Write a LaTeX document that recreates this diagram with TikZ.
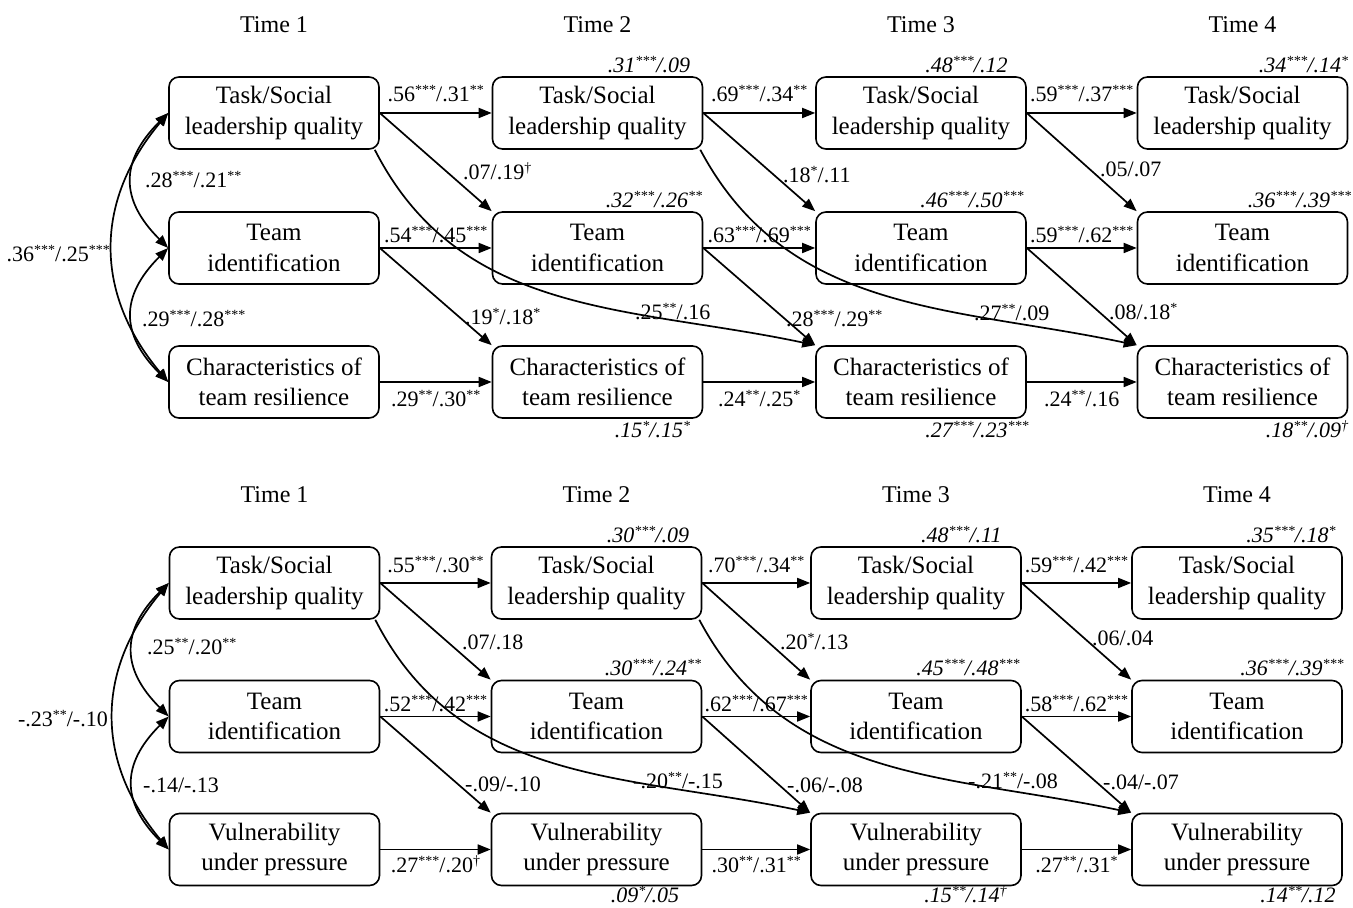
\documentclass[tikz,border=0pt]{standalone}
\usepackage{fontspec}
\setmainfont{Liberation Serif}
\usetikzlibrary{arrows.meta}
% small raised significance marks
\newcommand\sg[1]{\raisebox{0.32em}{\fontsize{14}{14}\selectfont #1}}

\begin{document}
\begin{tikzpicture}[x=1pt,y=1pt,
  var/.style={draw, line width=1.6pt, rounded corners=10pt, minimum width=210pt,
    minimum height=72pt, align=center, inner sep=0pt,
    font=\fontsize{25}{30.5}\selectfont},
  tip/.tip={Triangle[length=13pt,width=10pt]},
  path/.style={line width=1.7pt, -tip},
  cov/.style={line width=1.7pt, tip-tip},
  coef/.style={font=\fontsize{22}{24}\selectfont, inner sep=0pt},
  rsq/.style={font=\fontsize{22}{24}\selectfont\itshape, inner sep=0pt, anchor=base east},
  hdr/.style={font=\fontsize{24}{28}\selectfont, inner sep=0pt, anchor=base},
]
\useasboundingbox (0,0) rectangle (1353,908);

% ---------------- upper model: team resilience characteristics ----------------
\node[hdr] (ah1) at (274,875) {Time 1};
\node[hdr] (ah2) at (597.5,875) {Time 2};
\node[hdr] (ah3) at (921,875) {Time 3};
\node[hdr] (ah4) at (1242.5,875) {Time 4};

\foreach \c/\x in {1/274,2/597.5,3/921,4/1242.5}{
  \node[var] (aT\c) at (\x,795) {Task/Social\\leadership quality};
  \node[var] (aI\c) at (\x,660) {Team\\identification};
  \node[var] (aC\c) at (\x,526) {Characteristics of\\team resilience};
}

% explained variance
\node[rsq] (ar1) at ([xshift=-13pt,yshift=4pt]aT2.north east) {.31\sg{***}/.09};
\node[rsq] (ar2) at ([xshift=-19pt,yshift=4pt]aT3.north east) {.48\sg{***}/.12};
\node[rsq] (ar3) at ([xshift=0pt,yshift=4pt]aT4.north east) {.34\sg{***}/.14\sg{*}};
\node[rsq] (ar4) at ([xshift=-1pt,yshift=4pt]aI2.north east) {.32\sg{***}/.26\sg{**}};
\node[rsq] (ar5) at ([xshift=-3pt,yshift=4pt]aI3.north east) {.46\sg{***}/.50\sg{***}};
\node[rsq] (ar6) at ([xshift=3pt,yshift=4pt]aI4.north east) {.36\sg{***}/.39\sg{***}};
\node[rsq] (ar7) at ([xshift=-13pt,yshift=-19pt]aC2.south east) {.15\sg{*}/.15\sg{*}};
\node[rsq] (ar8) at ([xshift=2pt,yshift=-19pt]aC3.south east) {.27\sg{***}/.23\sg{***}};
\node[rsq] (ar9) at ([xshift=0pt,yshift=-19pt]aC4.south east) {.18\sg{**}/.09\sg{†}};

% stability paths
\draw[path] (aT1.east) -- node[coef,anchor=base,yshift=11pt]{.56\sg{***}/.31\sg{**}} (aT2.west);
\draw[path] (aT2.east) -- node[coef,anchor=base,yshift=11pt]{.69\sg{***}/.34\sg{**}} (aT3.west);
\draw[path] (aT3.east) -- node[coef,anchor=base,yshift=11pt]{.59\sg{***}/.37\sg{***}} (aT4.west);
\draw[path] (aI1.east) -- node[coef,anchor=base,yshift=5pt]{.54\sg{***}/.45\sg{***}} (aI2.west);
\draw[path] (aI2.east) -- node[coef,anchor=base,yshift=5pt]{.63\sg{***}/.69\sg{***}} (aI3.west);
\draw[path] (aI3.east) -- node[coef,anchor=base,yshift=5pt]{.59\sg{***}/.62\sg{***}} (aI4.west);
\draw[path] (aC1.east) -- node[coef,anchor=base,yshift=-25pt]{.29\sg{**}/.30\sg{**}} (aC2.west);
\draw[path] (aC2.east) -- node[coef,anchor=base,yshift=-25pt]{.24\sg{**}/.25\sg{*}} (aC3.west);
\draw[path] (aC3.east) -- node[coef,anchor=base,yshift=-25pt]{.24\sg{**}/.16} (aC4.west);

% cross-lagged paths
\draw[path] (aT1.east) -- (aI2.north west);
\draw[path] (aT2.east) -- (aI3.north west);
\draw[path] (aT3.east) -- (aI4.north west);
\draw[path] (aI1.east) -- (aC2.north west);
\draw[path] (aI2.east) -- (aC3.north west);
\draw[path] (aI3.east) -- (aC4.north west);
\draw[path] ([xshift=-5pt]aT1.south east) to[out=-63,in=168] (aC3.north west);
\draw[path] ([xshift=-3pt]aT2.south east) to[out=-62,in=168] (aC4.north west);

\node[coef,anchor=base west] (al1) at (463,728) {.07/.19\sg{†}};
\node[coef,anchor=base west] (al2) at (783,725) {.18\sg{*}/.11};
\node[coef,anchor=base west] (al3) at (1100,731) {.05/.07};
\node[coef,anchor=base west] (al4) at (465,583) {.19\sg{*}/.18\sg{*}};
\node[coef,anchor=base west] (al5) at (786,581) {.28\sg{***}/.29\sg{**}};
\node[coef,anchor=base west] (al6) at (1109,588) {.08/.18\sg{*}};
\node[coef,anchor=base west] (al7) at (635,588) {.25\sg{**}/.16};
\node[coef,anchor=base west] (al8) at (974,587) {.27\sg{**}/.09};

% correlations at Time 1
\draw[cov] (aT1.west) to[out=225,in=135,looseness=1.3] (aI1.west);
\draw[cov] (aI1.west) to[out=225,in=135,looseness=1.3] (aC1.west);
\draw[cov] (aT1.west) to[out=230,in=130,looseness=1.1] (aC1.west);
\node[coef,anchor=base west] (ac1) at (145,720) {.28\sg{***}/.21\sg{**}};
\node[coef,anchor=base west] (ac2) at (142,581) {.29\sg{***}/.28\sg{***}};
\node[coef,anchor=base east] (ac3) at (110,646) {.36\sg{***}/.25\sg{***}};

% ---------------- lower model: vulnerability under pressure ----------------
\node[hdr] (bh1) at (274.5,405) {Time 1};
\node[hdr] (bh2) at (596.5,405) {Time 2};
\node[hdr] (bh3) at (916,405) {Time 3};
\node[hdr] (bh4) at (1237,405) {Time 4};

\foreach \c/\x in {1/274.5,2/596.5,3/916,4/1237}{
  \node[var] (bT\c) at (\x,325) {Task/Social\\leadership quality};
  \node[var] (bI\c) at (\x,191.5) {Team\\identification};
  \node[var] (bV\c) at (\x,58.5) {Vulnerability\\under pressure};
}

\node[rsq] (br1) at ([xshift=-13pt,yshift=4pt]bT2.north east) {.30\sg{***}/.09};
\node[rsq] (br2) at ([xshift=-20pt,yshift=4pt]bT3.north east) {.48\sg{***}/.11};
\node[rsq] (br3) at ([xshift=-7pt,yshift=4pt]bT4.north east) {.35\sg{***}/.18\sg{*}};
\node[rsq] (br4) at ([xshift=-1pt,yshift=4pt]bI2.north east) {.30\sg{***}/.24\sg{**}};
\node[rsq] (br5) at ([xshift=-2pt,yshift=4pt]bI3.north east) {.45\sg{***}/.48\sg{***}};
\node[rsq] (br6) at ([xshift=1pt,yshift=4pt]bI4.north east) {.36\sg{***}/.39\sg{***}};
\node[rsq] (br7) at ([xshift=-23pt,yshift=-16pt]bV2.south east) {.09\sg{*}/.05};
\node[rsq] (br8) at ([xshift=-15pt,yshift=-16pt]bV3.south east) {.15\sg{**}/.14\sg{†}};
\node[rsq] (br9) at ([xshift=-7pt,yshift=-16pt]bV4.south east) {.14\sg{**}/.12};

\draw[path] (bT1.east) -- node[coef,anchor=base,yshift=10pt]{.55\sg{***}/.30\sg{**}} (bT2.west);
\draw[path] (bT2.east) -- node[coef,anchor=base,yshift=10pt]{.70\sg{***}/.34\sg{**}} (bT3.west);
\draw[path] (bT3.east) -- node[coef,anchor=base,yshift=10pt]{.59\sg{***}/.42\sg{***}} (bT4.west);
\draw[path] (bI1.east) -- node[coef,anchor=base,yshift=5pt]{.52\sg{***}/.42\sg{***}} (bI2.west);
\draw[path] (bI2.east) -- node[coef,anchor=base,yshift=5pt]{.62\sg{***}/.67\sg{***}} (bI3.west);
\draw[path] (bI3.east) -- node[coef,anchor=base,yshift=5pt]{.58\sg{***}/.62\sg{***}} (bI4.west);
\draw[path] (bV1.east) -- node[coef,anchor=base,yshift=-23pt]{.27\sg{***}/.20\sg{†}} (bV2.west);
\draw[path] (bV2.east) -- node[coef,anchor=base,yshift=-23pt]{.30\sg{**}/.31\sg{**}} (bV3.west);
\draw[path] (bV3.east) -- node[coef,anchor=base,yshift=-23pt]{.27\sg{**}/.31\sg{*}} (bV4.west);

\draw[path] (bT1.east) -- (bI2.north west);
\draw[path] (bT2.east) -- (bI3.north west);
\draw[path] (bT3.east) -- (bI4.north west);
\draw[path] (bI1.east) -- (bV2.north west);
\draw[path] (bI2.east) -- (bV3.north west);
\draw[path] (bI3.east) -- (bV4.north west);
\draw[path] ([xshift=-5pt]bT1.south east) to[out=-63,in=168] (bV3.north west);
\draw[path] ([xshift=-3pt]bT2.south east) to[out=-62,in=168] (bV4.north west);

\node[coef,anchor=base west] (bl1) at (462,258) {.07/.18};
\node[coef,anchor=base west] (bl2) at (780,258) {.20\sg{*}/.13};
\node[coef,anchor=base west] (bl3) at (1092,262) {.06/.04};
\node[coef,anchor=base west] (bl4) at (465,116) {-.09/-.10};
\node[coef,anchor=base west] (bl5) at (787,115) {-.06/-.08};
\node[coef,anchor=base west] (bl6) at (1103,118) {-.04/-.07};
\node[coef,anchor=base west] (bl7) at (633,119) {-.20\sg{**}/-.15};
\node[coef,anchor=base west] (bl8) at (968,119) {-.21\sg{**}/-.08};

\draw[cov] (bT1.west) to[out=225,in=135,looseness=1.3] (bI1.west);
\draw[cov] (bI1.west) to[out=225,in=135,looseness=1.3] (bV1.west);
\draw[cov] (bT1.west) to[out=230,in=130,looseness=1.1] (bV1.west);
\node[coef,anchor=base west] (bc1) at (147,253) {.25\sg{**}/.20\sg{**}};
\node[coef,anchor=base west] (bc2) at (143,115) {-.14/-.13};
\node[coef,anchor=base east] (bc3) at (108,181) {-.23\sg{**}/-.10};
\end{tikzpicture}
\end{document}
